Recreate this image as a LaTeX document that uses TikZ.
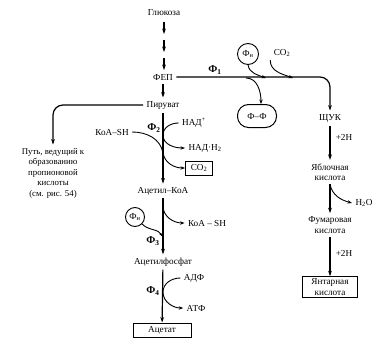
\documentclass[tikz,border=0pt]{standalone}
\usepackage{fontspec}
\setmainfont{Liberation Serif}
\usepackage{tikz}
\usetikzlibrary{arrows.meta, positioning, shapes}

\begin{document}
\begin{tikzpicture}[x=1pt, y=-1pt, font=\fontsize{9.2}{10.5}\selectfont,
  arr/.style={-{Stealth[length=5.5pt,width=3.8pt]}, line width=1.2pt},
  side/.style={-{Stealth[length=4.5pt,width=3.4pt]}, line width=0.9pt},
  box/.style={draw, line width=1pt, minimum height=14pt, inner sep=2pt},
  ph/.style={draw, circle, line width=0.9pt, minimum size=21pt, inner sep=0pt},
  lab/.style={font=\bfseries\fontsize{10.5}{12}\selectfont}]
  \useasboundingbox (0,0) rectangle (379,345);
  \node (glc) at (164,13) {Глюкоза};
  \node (fep) at (163,77) {ФЕП};
  \node (pyr) at (163,105) {Пируват};
  \node (acoa) at (163,191) {Ацетил–КоА};
  \node (acp) at (163,262) {Ацетилфосфат};
  \node[box, minimum width=58pt] (acet) at (162,330) {Ацетат};
  \node[align=center, font=\fontsize{8.8}{10.5}\selectfont] (prop) at (53,173)
    {Путь, ведущий к\\образованию\\пропионовой\\кислоты\\(см. рис. 54)};
  \foreach \y in {22,40,58} \draw[arr] (glc.south |- 0,\y) -- ++(0,12);
  \draw[arr] (fep) -- (pyr);
  \draw[arr] (pyr) -- (acoa);
  \draw[arr] (acoa) -- (acp);
  \draw[arr] (acp) -- (acet);
  \draw[arr, rounded corners=10pt] (pyr.west) -- (prop.north |- pyr.west) -- (prop.north);

  \node (oaa) at (330,118) {ЩУК};
  \node[align=center] (mal) at (330,172) {Яблочная\\кислота};
  \node[align=center] (fum) at (330,225) {Фумаровая\\кислота};
  \node[box, align=center, minimum width=55pt] (succ) at (330,287) {Янтарная\\кислота};
  \draw[arr, rounded corners=10pt] (fep.east) -- (oaa.north |- fep.east) -- (oaa.north);
  \draw[arr] (oaa) -- (mal);
  \draw[arr] (mal) -- (fum);
  \draw[arr] (fum) -- (succ);
  \node (h2a) at (344,137) {+2H};
  \node (h2o) at (364,203) {H\textsubscript{2}O};
  \node (h2b) at (344,253) {+2H};
  \draw[side] (mal.south) to[out=-80,in=165] (h2o.west);

  \node[lab] (f1) at (215,70) {Ф\textsubscript{1}};
  \node[ph] (phn1) at (248,54) {Ф\textsubscript{н}};
  \node (co2a) at (282,53) {CO\textsubscript{2}};
  \node[draw, rounded corners=11pt, line width=1pt, minimum width=39pt, minimum height=23pt] (ff) at (257,116) {Ф–Ф};
  \coordinate (j0) at (246,78);
  \coordinate (j1) at (266,78);
  \coordinate (j2) at (293,78);
  \draw[side] (phn1.south) to[out=-80,in=160] (j1);
  \draw[side] (co2a.south west) to[out=-90,in=160] (j2);
  \draw[side] (j0) to[out=0,in=90] ([xshift=4pt]ff.north);

  \node (coa1) at (112,132) {КоА–SH};
  \node[lab] (f2) at (154,128) {Ф\textsubscript{2}};
  \node (nad) at (194,123) {НАД\textsuperscript{+}};
  \node (nadh) at (205,148) {НАД·H\textsubscript{2}};
  \node[box, minimum width=27pt] (co2b) at (199,168) {CO\textsubscript{2}};
  \coordinate (k1) at (163,135);
  \coordinate (k2) at (163,153);
  \draw[side] (nad.west) to[out=180,in=90] (k1) to[out=-90,in=180] (nadh.west);
  \draw[side] (coa1.east) to[out=0,in=100] (k2) to[out=-80,in=180] (co2b.west);

  \node[ph, minimum size=19pt] (phn2) at (135,217) {Ф\textsubscript{н}};
  \node (coa2) at (207,223) {КоА – SH};
  \node[lab] (f3) at (153,241) {Ф\textsubscript{3}};
  \coordinate (k3) at (163,206);
  \coordinate (k4) at (163,237);
  \draw[side] (k3) to[out=-90,in=180] (coa2.west);
  \draw[side] (phn2.south east) to[out=-45,in=120] (k4);

  \node (adp) at (194,278) {АДФ};
  \node (atp) at (196,308) {АТФ};
  \node[lab] (f4) at (153,291) {Ф\textsubscript{4}};
  \coordinate (k5) at (163,292);
  \draw[side] (adp.west) to[out=180,in=90] (k5) to[out=-90,in=180] (atp.west);
\end{tikzpicture}
\end{document}
